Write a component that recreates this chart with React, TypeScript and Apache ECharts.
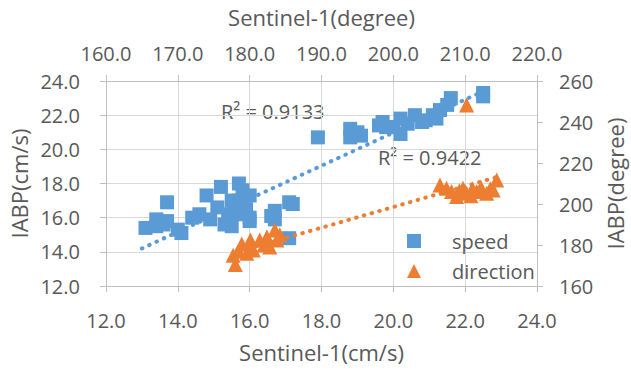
import React, { useEffect, useRef } from "react";
import * as echarts from "echarts";

// speed: [Sentinel-1 (cm/s), IABP (cm/s)]
const speedPoints: [number, number][] = [
  [13.1, 15.4], [13.4, 15.9], [13.6, 15.6], [13.7, 16.9], [13.7, 15.8], [13.4, 15.5],
  [14.0, 15.3], [14.1, 15.1], [14.4, 16.0], [14.6, 16.2], [14.8, 17.3], [14.9, 15.9],
  [15.1, 16.6], [15.2, 17.8], [15.3, 15.6], [15.4, 16.2], [15.5, 17.0], [15.5, 15.5],
  [15.7, 18.0], [15.7, 17.0], [15.7, 16.2], [15.8, 17.6], [15.9, 16.5], [16.0, 17.3],
  [16.0, 16.0], [16.0, 15.8], [15.6, 16.8], [16.7, 16.4], [16.7, 15.9], [16.6, 16.1],
  [17.1, 16.9], [17.2, 16.8], [17.1, 14.8],
  [17.9, 20.7], [18.8, 21.2], [18.8, 20.7], [19.1, 20.8], [19.0, 21.0], [19.6, 21.4],
  [19.8, 21.3], [19.7, 21.6], [20.2, 21.8], [20.2, 20.9], [20.4, 21.5], [20.6, 22.0],
  [20.9, 21.7], [21.1, 22.0], [21.3, 22.3], [21.5, 22.6], [21.6, 23.0], [21.2, 21.8],
  [22.5, 23.1], [22.5, 23.3], [20.0, 21.3], [20.8, 21.6],
];

// direction: [Sentinel-1 (degree), IABP (degree)]
const directionPoints: [number, number][] = [
  [178.0, 170.5], [177.7, 175.0], [178.4, 177.0], [178.9, 180.5], [179.6, 176.0],
  [180.1, 182.4], [180.5, 177.6], [181.4, 182.4], [182.0, 180.0], [182.4, 184.0],
  [182.8, 179.0], [183.5, 187.3], [183.8, 182.4], [184.2, 185.0],
  [206.5, 209.3], [207.4, 207.7], [208.1, 206.1], [208.8, 203.6], [209.7, 207.7],
  [210.2, 205.3], [210.8, 204.0], [211.6, 206.1], [212.2, 208.0], [213.0, 205.3],
  [213.5, 207.5], [213.9, 206.8], [214.4, 211.7], [209.2, 206.5], [211.0, 207.5],
  [210.2, 248.3],
];

// linear trendline end points
const speedTrend: [number, number][] = [[13.0, 14.2], [22.5, 23.4]];
const directionTrend: [number, number][] = [[177.7, 176.0], [214.4, 213.1]];

const speedR2 = "R² = 0.9133";
const directionR2 = "R² = 0.9422";

const bottomTicks = { min: 12, max: 24, interval: 2 };
const topTicks = { min: 160, max: 220, interval: 10 };
const leftTicks = { min: 12, max: 24, interval: 2 };
const rightTicks = { min: 160, max: 260, interval: 20 };

const BLUE = "#5B9BD5";
const ORANGE = "#ED7D31";
const TEXT = "#595959";
const FONT = "Open Sans";

export default function App() {
  const ref = useRef<HTMLDivElement>(null);
  useEffect(() => {
    if (!ref.current) return;
    const chart = echarts.init(ref.current, undefined, { renderer: "svg" });
    const axisCommon = {
      type: "value" as const,
      axisLine: { show: true, lineStyle: { color: "#BFBFBF", width: 1 } },
      axisTick: { show: true, length: 6, inside: false, lineStyle: { color: "#BFBFBF" } },
      nameLocation: "middle" as const,
      nameTextStyle: { color: TEXT, fontSize: 22, fontFamily: FONT },
    };
    const labelStyle = { color: TEXT, fontSize: 20, fontFamily: FONT };
    chart.setOption({
      animation: false,
      backgroundColor: "#fff",
      grid: {
        left: 106,
        right: 94,
        top: 81,
        bottom: 86,
        containLabel: false,
        outerBoundsMode: "none",
      },
      xAxis: [
        {
          ...axisCommon,
          position: "bottom",
          ...bottomTicks,
          name: "Sentinel-1(cm/s)",
          nameGap: 55,
          axisLabel: { ...labelStyle, margin: 24, formatter: (v: number) => v.toFixed(1) },
          splitLine: { show: true, lineStyle: { color: "#D9D9D9", width: 1 } },
        },
        {
          ...axisCommon,
          position: "top",
          ...topTicks,
          name: "Sentinel-1(degree)",
          nameGap: 53,
          axisLabel: { ...labelStyle, margin: 18, formatter: (v: number) => v.toFixed(1) },
          splitLine: { show: false },
        },
      ],
      yAxis: [
        {
          ...axisCommon,
          position: "left",
          ...leftTicks,
          name: "IABP(cm/s)",
          nameGap: 76,
          axisLabel: { ...labelStyle, margin: 26, formatter: (v: number) => v.toFixed(1) },
          splitLine: { show: true, lineStyle: { color: "#D9D9D9", width: 1 } },
        },
        {
          ...axisCommon,
          position: "right",
          ...rightTicks,
          name: "IABP(degree)",
          nameGap: 62,
          axisLabel: { ...labelStyle, margin: 22, formatter: (v: number) => String(v) },
          splitLine: { show: false },
        },
      ],
      legend: {
        orient: "vertical",
        left: 402,
        top: 226,
        itemWidth: 14,
        itemHeight: 14,
        itemGap: 10,
        textStyle: { color: TEXT, fontSize: 20, fontFamily: FONT, padding: [0, 0, 0, 26] },
        data: [
          { name: "speed", icon: "rect" },
          { name: "direction", icon: "triangle" },
        ],
      },
      series: [
        {
          name: "speed",
          type: "scatter",
          xAxisIndex: 0,
          yAxisIndex: 0,
          symbol: "rect",
          symbolSize: 14,
          itemStyle: { color: BLUE, opacity: 1 },
          data: speedPoints,
          z: 2,
        },
        {
          name: "direction",
          type: "scatter",
          xAxisIndex: 1,
          yAxisIndex: 1,
          symbol: "triangle",
          symbolSize: 15,
          itemStyle: { color: ORANGE, opacity: 1 },
          data: directionPoints,
          z: 3,
        },
        {
          name: "speedTrend",
          type: "line",
          xAxisIndex: 0,
          yAxisIndex: 0,
          showSymbol: false,
          symbol: "none",
          data: speedTrend,
          lineStyle: { color: BLUE, width: 4, type: [0.5, 7.5], cap: "round" },
          z: 4,
          silent: true,
        },
        {
          name: "directionTrend",
          type: "line",
          xAxisIndex: 1,
          yAxisIndex: 1,
          showSymbol: false,
          symbol: "none",
          data: directionTrend,
          lineStyle: { color: ORANGE, width: 4, type: [0.5, 7.5], cap: "round" },
          z: 4,
          silent: true,
        },
      ],
      graphic: [
        {
          type: "text",
          left: 221,
          top: 101,
          style: { text: speedR2, fill: TEXT, fontSize: 20, fontFamily: FONT },
        },
        {
          type: "text",
          left: 378,
          top: 147,
          style: { text: directionR2, fill: TEXT, fontSize: 20, fontFamily: FONT },
        },
      ],
    });
    return () => chart.dispose();
  }, []);
  return (
    <div
      ref={ref}
      style={{ position: "fixed", left: 0, top: 0, width: 631, height: 372 }}
    />
  );
}
